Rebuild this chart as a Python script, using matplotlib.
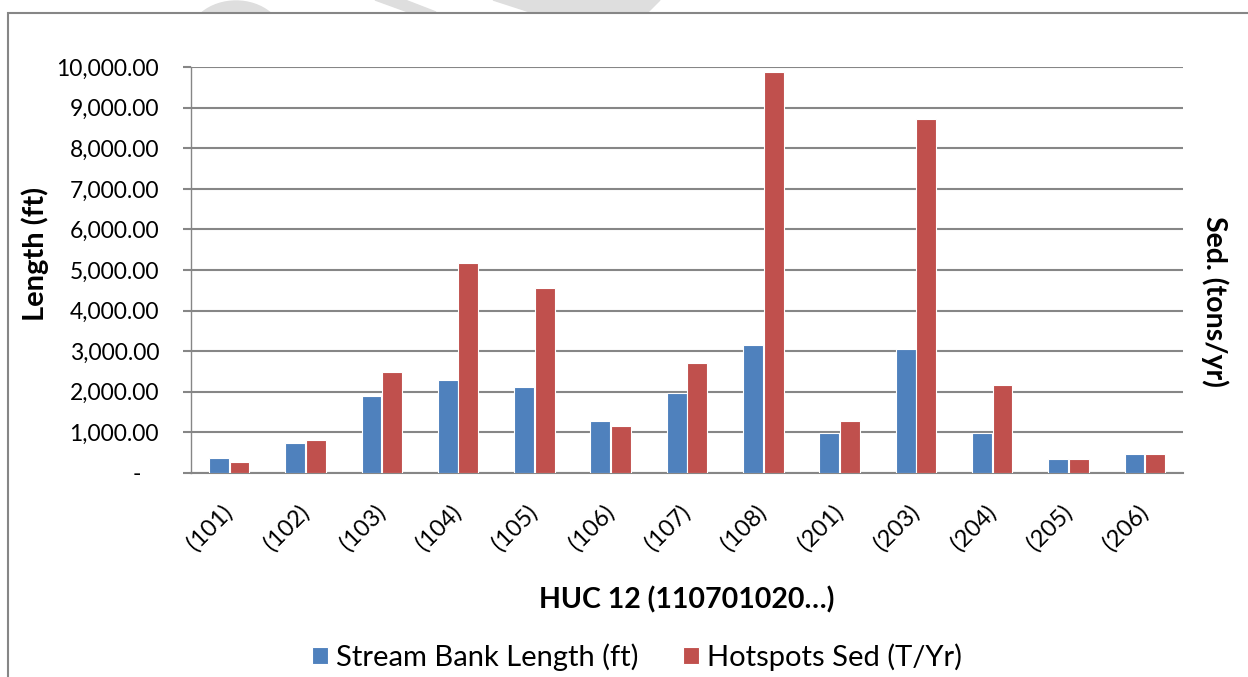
import numpy as np
import matplotlib
matplotlib.use('Agg')
import matplotlib.pyplot as plt
from matplotlib.patches import Rectangle, Polygon, Ellipse
from matplotlib.ticker import FuncFormatter

# Data
categories = ['(101)', '(102)', '(103)', '(104)', '(105)', '(106)', '(107)',
              '(108)', '(201)', '(203)', '(204)', '(205)', '(206)']
bank_length = [370, 740, 1890, 2280, 2110, 1275, 1965, 3160, 980, 3045, 985, 345, 460]
hotspots_sed = [255, 815, 2475, 5165, 4550, 1150, 2700, 9890, 1285, 8720, 2155, 345, 460]

blue = '#4F81BD'
red = '#C0504D'
grid_gray = '#868686'

plt.rcParams['font.family'] = ['Lato', 'DejaVu Sans']

W, H = 1248, 677
fig = plt.figure(figsize=(W / 100, H / 100), dpi=100)

# axes placed in pixel units of the reference
left, right, top, bottom = 191, 1183, 67.3, 472.7
ax = fig.add_axes([left / W, 1 - bottom / H, (right - left) / W, (bottom - top) / H])

x = np.arange(len(categories))
w = 0.26
ax.bar(x - 0.135, bank_length, w, color=blue, edgecolor='white', linewidth=0.8,
       label='Stream Bank Length (ft)', zorder=3)
ax.bar(x + 0.135, hotspots_sed, w, color=red, edgecolor='white', linewidth=0.8,
       label='Hotspots Sed (T/Yr)', zorder=3)

ax.set_xlim(-0.5, len(categories) - 0.5)
ax.set_ylim(0, 10000)
ax.set_yticks(np.arange(0, 10001, 1000))


def fmt(v, pos):
    if v == 0:
        return '-   '
    return '{:,.2f}'.format(v)


ax.yaxis.set_major_formatter(FuncFormatter(fmt))
ax.yaxis.grid(True, color=grid_gray, linewidth=1.5, zorder=0)
ax.set_axisbelow(True)
ax.tick_params(axis='y', length=6, width=1.5, color=grid_gray, labelsize=16.5, pad=17)
ax.tick_params(axis='x', length=0, labelsize=17, pad=26)
ax.set_xticks(x)
ax.set_xticklabels(categories, rotation=45, ha='right', va='center', rotation_mode='anchor')

for s in ['top', 'right']:
    ax.spines[s].set_visible(False)
ax.spines['left'].set_color(grid_gray)
ax.spines['left'].set_linewidth(1.0)
ax.spines['bottom'].set_color(grid_gray)
ax.spines['bottom'].set_linewidth(1.5)

fig.text(35 / W, 1 - 254 / H, 'Length (ft)', rotation=90, fontsize=21,
         fontweight='bold', ha='center', va='center')
fig.text(1215 / W, 1 - 301 / H, 'Sed. (tons/yr)', rotation=270, fontsize=20.5,
         fontweight='bold', ha='center', va='center')
fig.text(687 / W, 1 - 600 / H, 'HUC 12 (110701020\u2026)', fontsize=20.5,
         fontweight='bold', ha='center', va='center')

fig.legend(loc='center', bbox_to_anchor=(637 / W, 1 - 657 / H), ncol=2, frameon=False,
           fontsize=21, handlelength=0.55, handleheight=0.55, handletextpad=0.3,
           columnspacing=1.5, borderpad=0, borderaxespad=0)

# chart border
fig.patches.append(Rectangle((8 / W, -0.05), 1.1, 1 - 13 / H + 0.05,
                             transform=fig.transFigure, fill=False,
                             edgecolor=grid_gray, linewidth=1.5))

# faint watermark peeking above the border
wm = '#dedede'
fig.patches.append(Ellipse((236 / W, 1 - 40 / H), 96 / W, 78 / H,
                           transform=fig.transFigure, color=wm, zorder=-1))
fig.patches.append(Polygon([(375 / W, 1), (405 / W, 1), (436 / W, 1 - 12 / H), (408 / W, 1 - 12 / H)],
                           closed=True, transform=fig.transFigure, color=wm, zorder=-1))
fig.patches.append(Polygon([(493 / W, 1), (660 / W, 1), (648 / W, 1 - 12 / H), (530 / W, 1 - 12 / H)],
                           closed=True, transform=fig.transFigure, color=wm, zorder=-1))
fig.patches.append(Rectangle((0, 0), 8 / W, 1, transform=fig.transFigure, color='white', zorder=-0.5))
fig.patches.append(Rectangle((8 / W, 0), 1, 1 - 13 / H, transform=fig.transFigure, color='white', zorder=-0.5))

fig.savefig('out.png', dpi=100)
